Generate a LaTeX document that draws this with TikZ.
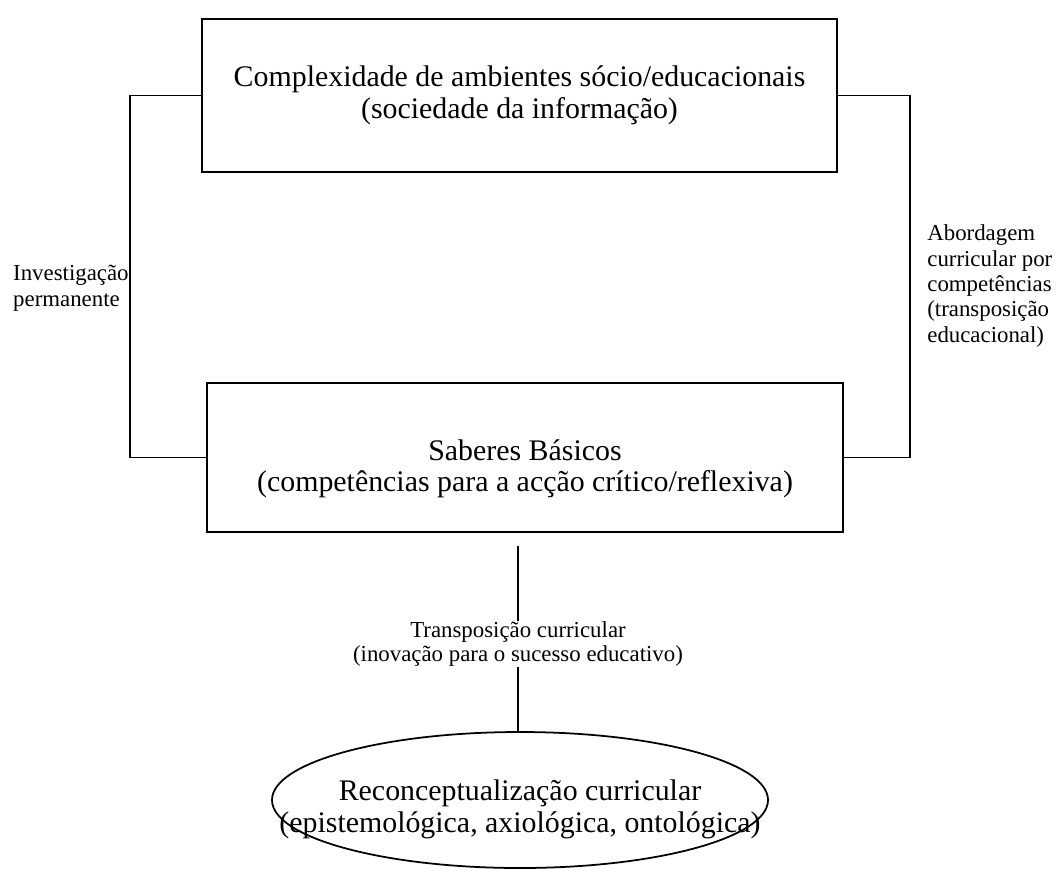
\documentclass[tikz,border=0pt]{standalone}
\usepackage{fontspec}
\setmainfont{Liberation Serif}
\usetikzlibrary{shapes,positioning,calc}

\begin{document}
\begin{tikzpicture}[
  box/.style={rectangle, draw, line width=1pt, minimum width=12.7cm, minimum height=3cm, align=center, font=\fontsize{17}{18}\selectfont},
  oval/.style={ellipse, draw, line width=1pt, minimum width=9.92cm, minimum height=2.72cm},
  lbl/.style={inner sep=0pt, align=left, font=\fontsize{13}{14.5}\selectfont},
  link/.style={line width=1pt}
]
  \useasboundingbox (0,0) rectangle (21.24,-17.54);

  \node[box, minimum height=3.06cm] (complex) at (10.39,-1.91) {Complexidade de ambientes sócio/educacionais\\(sociedade da informação)};
  \node[box, minimum width=12.72cm, minimum height=2.98cm] (saberes) at (10.5,-9.15) {\rule{0pt}{0.86cm}Saberes Básicos\\(competências para a acção crítico/reflexiva)};
  \node[oval] (recon) at (10.4,-16.0) {};
  \node[align=center, font=\fontsize{17}{18}\selectfont] (recontxt) at (10.4,-16.19) {Reconceptualização curricular\\(epistemológica, axiológica, ontológica)};

  \node[lbl, anchor=east] (invest) at (2.58,-5.76) {Investigação\\permanente};
  \node[lbl, anchor=west] (aborda) at (18.54,-5.72) {Abordagem\\curricular por\\competências\\(transposição\\educacional)};
  \node[lbl, align=center, font=\fontsize{13}{13.5}\selectfont] (transp) at (10.36,-12.88) {Transposição curricular\\(inovação para o sucesso educativo)};

  \draw[link] (complex.west) -- ++(-1.42,0) |- (saberes.west);
  \draw[link] (complex.east) -- ++(1.44,0) |- (saberes.east);
  \draw[link, shorten <=0.26cm] (saberes.south -| transp.north) -- (transp.north);
  \draw[link] (transp.south) -- (transp.south |- recon.north);
\end{tikzpicture}
\end{document}
